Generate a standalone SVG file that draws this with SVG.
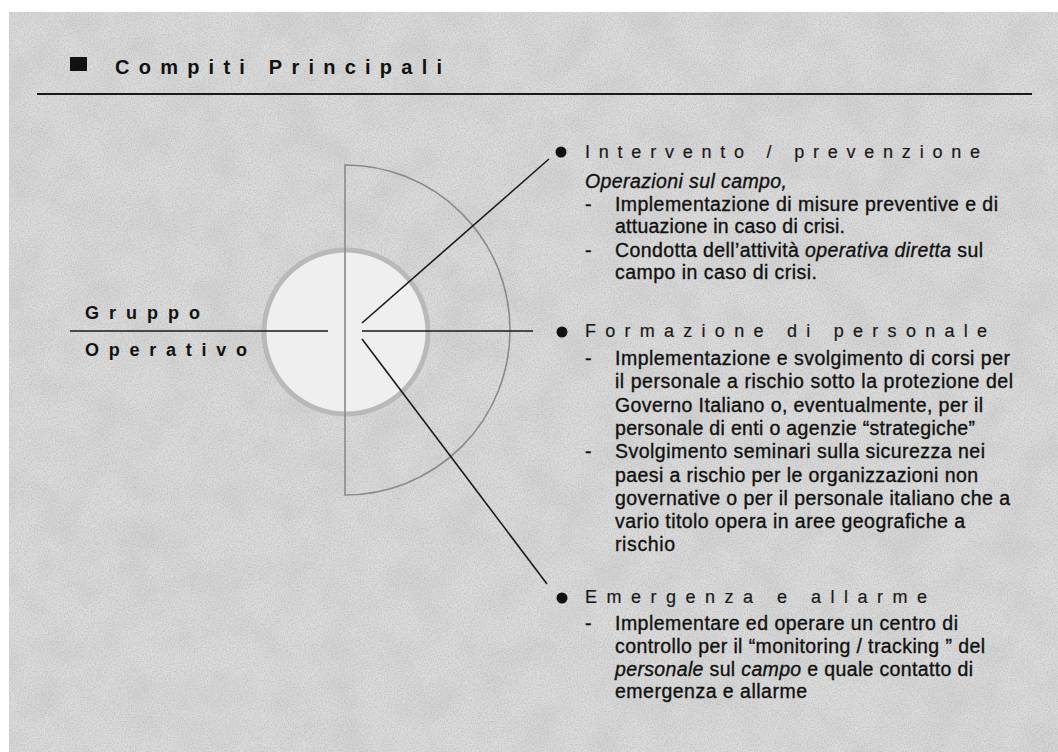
<svg xmlns="http://www.w3.org/2000/svg" width="1058" height="752" viewBox="0 0 1058 752">
<defs>
<filter id="noise" x="0" y="0" width="100%" height="100%">
<feTurbulence type="fractalNoise" baseFrequency="0.7" numOctaves="2" seed="3" result="t"/>
<feColorMatrix type="matrix" values="0 0 0 0 0.45  0 0 0 0 0.45  0 0 0 0 0.45  1.6 0 0 0 -0.6" in="t"/>
</filter>
<filter id="blot" x="0" y="0" width="100%" height="100%">
<feTurbulence type="fractalNoise" baseFrequency="0.025" numOctaves="3" seed="7" result="t"/>
<feColorMatrix type="matrix" values="0 0 0 0 0.6  0 0 0 0 0.6  0 0 0 0 0.6  1.2 0 0 0 -0.45" in="t"/>
</filter>
</defs>
<style>
.hd{font-family:"Liberation Sans",Arial,sans-serif;font-weight:bold;fill:#111;}
.h2{font-family:"Liberation Sans",Arial,sans-serif;font-size:18px;fill:#1a1a1a;stroke:#1a1a1a;stroke-width:0.2;}
.tx{font-family:"Liberation Sans",Arial,sans-serif;font-size:19.5px;fill:#111;stroke:#111;stroke-width:0.35;}
.it{font-style:italic;}
.ln{stroke:#1a1a1a;stroke-width:1.6;fill:none;}
</style>
<rect x="0" y="0" width="1058" height="752" fill="#ffffff"/>
<rect x="9" y="12" width="1049" height="740" fill="#dcdcdc"/>
<rect x="9" y="12" width="1049" height="740" filter="url(#blot)"/>
<rect x="9" y="12" width="1049" height="740" filter="url(#noise)" opacity="0.8"/>

<g id="title">
<rect x="70" y="57" width="17" height="14" fill="#111"/>
<text class="hd" x="115" y="74" font-size="20" textLength="327" lengthAdjust="spacing">Compiti Principali</text>
<line x1="37" y1="94" x2="1032" y2="94" stroke="#1a1a1a" stroke-width="2"/>
</g>

<g id="graphic">
<circle cx="346" cy="332" r="82" fill="#efefef" stroke="#b9b9b9" stroke-width="5"/>
<path d="M345,165 A165,165 0 0 1 345,495 Z" fill="none" stroke="#8a8a8a" stroke-width="1.6"/>
</g>

<g id="gruppo-operativo">
<text class="hd" x="85" y="319" font-size="18" textLength="115" lengthAdjust="spacing">Gruppo</text>
<text class="hd" x="85" y="356" font-size="18" textLength="162" lengthAdjust="spacing">Operativo</text>
</g>

<g id="connectors">
<line class="ln" x1="70" y1="331" x2="328" y2="331"/>
<line class="ln" x1="362" y1="331" x2="533" y2="331"/>
<line class="ln" x1="362" y1="323" x2="549" y2="159"/>
<line class="ln" x1="362" y1="339" x2="547" y2="584"/>
</g>

<g id="intervento">
<circle cx="561" cy="152" r="5.5" fill="#111"/>
<text class="h2" x="585" y="158" textLength="395" lengthAdjust="spacing">Intervento / prevenzione</text>
<text class="tx it" x="585" y="188" textLength="202" lengthAdjust="spacing">Operazioni sul campo,</text>
<text class="tx" x="585" y="211">-</text>
<text class="tx" x="615" y="211" textLength="383" lengthAdjust="spacing">Implementazione di misure preventive e di</text>
<text class="tx" x="615" y="233" textLength="230" lengthAdjust="spacing">attuazione in caso di crisi.</text>
<text class="tx" x="585" y="257">-</text>
<text class="tx" x="615" y="257" textLength="368" lengthAdjust="spacing">Condotta dell’attività <tspan class="it">operativa diretta</tspan> sul</text>
<text class="tx" x="615" y="279" textLength="202" lengthAdjust="spacing">campo in caso di crisi.</text>
</g>

<g id="formazione">
<circle cx="562" cy="332" r="5.5" fill="#111"/>
<text class="h2" x="585" y="337" textLength="402" lengthAdjust="spacing">Formazione di personale</text>
<text class="tx" x="585" y="365">-</text>
<text class="tx" x="615" y="365" textLength="395" lengthAdjust="spacing">Implementazione e svolgimento di corsi per</text>
<text class="tx" x="615" y="388" textLength="398" lengthAdjust="spacing">il personale a rischio sotto la protezione del</text>
<text class="tx" x="615" y="412" textLength="368" lengthAdjust="spacing">Governo Italiano o, eventualmente, per il</text>
<text class="tx" x="615" y="435" textLength="360" lengthAdjust="spacing">personale di enti o agenzie “strategiche”</text>
<text class="tx" x="585" y="458">-</text>
<text class="tx" x="615" y="458" textLength="370" lengthAdjust="spacing">Svolgimento seminari sulla sicurezza nei</text>
<text class="tx" x="615" y="482" textLength="363" lengthAdjust="spacing">paesi a rischio per le organizzazioni non</text>
<text class="tx" x="615" y="505" textLength="395" lengthAdjust="spacing">governative o per il personale italiano che a</text>
<text class="tx" x="615" y="528" textLength="350" lengthAdjust="spacing">vario titolo opera in aree geografiche a</text>
<text class="tx" x="615" y="551" textLength="60" lengthAdjust="spacing">rischio</text>
</g>

<g id="emergenza">
<circle cx="562" cy="598" r="5.5" fill="#111"/>
<text class="h2" x="585" y="603" textLength="342" lengthAdjust="spacing">Emergenza e allarme</text>
<text class="tx" x="585" y="630">-</text>
<text class="tx" x="615" y="630" textLength="343" lengthAdjust="spacing">Implementare ed operare un centro di</text>
<text class="tx" x="615" y="653" textLength="370" lengthAdjust="spacing">controllo per il “monitoring / tracking ” del</text>
<text class="tx" x="615" y="676" textLength="358" lengthAdjust="spacing"><tspan class="it">personale</tspan> sul <tspan class="it">campo</tspan> e quale contatto di</text>
<text class="tx" x="615" y="698" textLength="192" lengthAdjust="spacing">emergenza e allarme</text>
</g>
</svg>
